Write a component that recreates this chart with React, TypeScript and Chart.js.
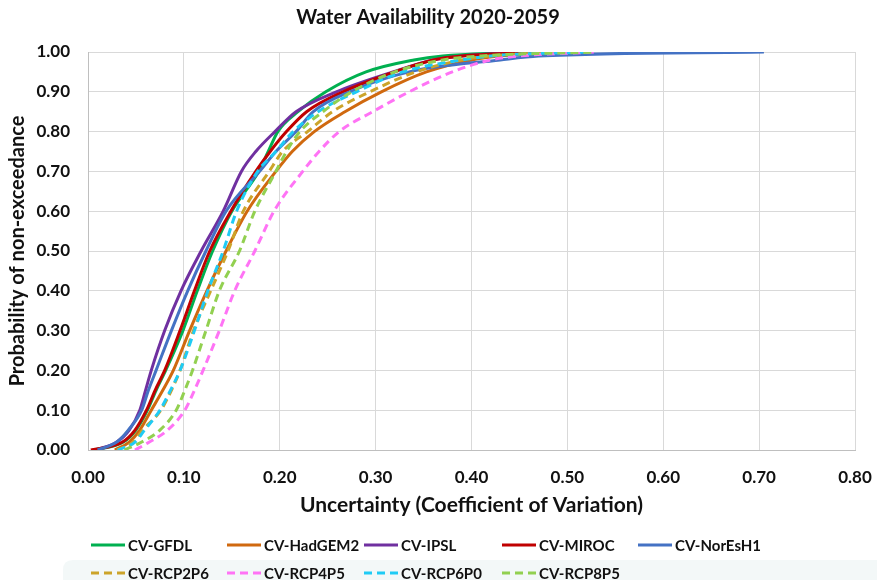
import React, { useEffect, useRef } from "react";
import { Chart, registerables } from "chart.js";

Chart.register(...registerables);

// Probability of non-exceedance levels (shared y values)
const probabilityLevels = [0, 0.02, 0.05, 0.1, 0.15, 0.2, 0.3, 0.4, 0.5, 0.6, 0.7, 0.75, 0.8, 0.85, 0.9, 0.95, 0.98, 0.99, 1.0];

// Coefficient of variation at each probability level, per series
const cvGFDL = [0.005, 0.037, 0.050, 0.062, 0.071, 0.081, 0.099, 0.114, 0.130, 0.150, 0.178, 0.188, 0.198, 0.219, 0.248, 0.290, 0.340, 0.370, 0.460];
const cvHadGEM2 = [0.028, 0.043, 0.054, 0.066, 0.078, 0.089, 0.106, 0.124, 0.144, 0.166, 0.196, 0.213, 0.236, 0.268, 0.306, 0.353, 0.400, 0.430, 0.520];
const cvIPSL = [0.008, 0.030, 0.043, 0.054, 0.060, 0.066, 0.080, 0.097, 0.118, 0.141, 0.160, 0.175, 0.195, 0.217, 0.259, 0.318, 0.360, 0.390, 0.460];
const cvMIROC = [0.003, 0.036, 0.049, 0.061, 0.070, 0.080, 0.096, 0.111, 0.127, 0.149, 0.175, 0.190, 0.207, 0.228, 0.266, 0.320, 0.360, 0.390, 0.480];
const cvNorEsH1 = [0.010, 0.030, 0.042, 0.056, 0.063, 0.071, 0.087, 0.104, 0.123, 0.144, 0.179, 0.196, 0.217, 0.235, 0.273, 0.335, 0.430, 0.470, 0.705];
const cvRCP2P6 = [0.030, 0.047, 0.057, 0.076, 0.087, 0.096, 0.110, 0.128, 0.146, 0.162, 0.189, 0.203, 0.229, 0.255, 0.294, 0.342, 0.390, 0.420, 0.500];
const cvRCP4P5 = [0.049, 0.064, 0.083, 0.101, 0.111, 0.120, 0.137, 0.153, 0.174, 0.194, 0.224, 0.241, 0.262, 0.297, 0.335, 0.380, 0.420, 0.450, 0.530];
const cvRCP6P0 = [0.031, 0.049, 0.059, 0.075, 0.086, 0.096, 0.111, 0.125, 0.141, 0.155, 0.177, 0.196, 0.214, 0.240, 0.280, 0.328, 0.390, 0.420, 0.520];
const cvRCP8P5 = [0.038, 0.056, 0.075, 0.092, 0.101, 0.109, 0.123, 0.137, 0.158, 0.174, 0.196, 0.207, 0.221, 0.245, 0.275, 0.320, 0.370, 0.410, 0.530];

const seriesLabels = ["CV-GFDL", "CV-HadGEM2", "CV-IPSL", "CV-MIROC", "CV-NorEsH1", "CV-RCP2P6", "CV-RCP4P5", "CV-RCP6P0", "CV-RCP8P5"];
const seriesValues = [cvGFDL, cvHadGEM2, cvIPSL, cvMIROC, cvNorEsH1, cvRCP2P6, cvRCP4P5, cvRCP6P0, cvRCP8P5];
const seriesColors = ["#00B050", "#D0690F", "#7030A0", "#C00000", "#4472C4", "#CCA42A", "#FF73F5", "#1FCBF5", "#92D050"];
const seriesDashed = [false, false, false, false, false, true, true, true, true];

const chartTitle = "Water Availability 2020-2059";
const xTitle = "Uncertainty (Coefficient of Variation)";
const yTitle = "Probability of non-exceedance";

const FONT = "Lato, 'Open Sans', 'DejaVu Sans', sans-serif";
const TEXT = "#111111";
const DASH = [8, 5];

export default function App() {
  const ref = useRef<HTMLCanvasElement | null>(null);

  useEffect(() => {
    document.body.style.margin = "0";
    const canvas = ref.current;
    if (!canvas) return;

    const n = seriesLabels.length;
    const datasets = seriesLabels.map((label, i) => ({
      label,
      data: seriesValues[i].map((x, j) => ({ x, y: probabilityLevels[j] })),
      borderColor: seriesColors[i],
      backgroundColor: seriesColors[i],
      borderWidth: 3,
      borderDash: seriesDashed[i] ? DASH : [],
      pointRadius: 0,
      pointHoverRadius: 0,
      showLine: true,
      fill: false,
      cubicInterpolationMode: "monotone" as const,
      order: n - i,
    }));

    const decorPlugin = {
      id: "decor",
      beforeDraw(chart: any) {
        const ctx = chart.ctx;
        ctx.save();
        ctx.fillStyle = "#ffffff";
        ctx.fillRect(0, 0, chart.width, chart.height);
        // faint legend background band
        ctx.fillStyle = "#f3f8f8";
        ctx.beginPath();
        const x0 = 63, y0 = 560, r = 10;
        ctx.moveTo(x0 + r, y0);
        ctx.lineTo(chart.width, y0);
        ctx.lineTo(chart.width, chart.height);
        ctx.lineTo(x0, chart.height);
        ctx.lineTo(x0, y0 + r);
        ctx.quadraticCurveTo(x0, y0, x0 + r, y0);
        ctx.fill();
        ctx.restore();
      },
      afterDraw(chart: any) {
        const ctx = chart.ctx;
        const area = chart.chartArea;
        ctx.save();
        ctx.fillStyle = TEXT;
        ctx.textAlign = "center";
        ctx.textBaseline = "middle";
        ctx.font = `bold 20px ${FONT}`;
        ctx.fillText(chartTitle, 428, 18);
        ctx.font = `bold 21px ${FONT}`;
        ctx.fillText(xTitle, (area.left + area.right) / 2, 505);
        ctx.save();
        ctx.font = `bold 20px ${FONT}`;
        ctx.translate(18, (area.top + area.bottom) / 2);
        ctx.rotate(-Math.PI / 2);
        ctx.fillText(yTitle, 0, 0);
        ctx.restore();

        // legend
        const cols = [91, 227, 364, 502, 638];
        const rows = [545, 573];
        ctx.font = `bold 15px ${FONT}`;
        ctx.textAlign = "left";
        chart.data.datasets.forEach((ds: any, i: number) => {
          const row = i < 5 ? 0 : 1;
          const col = i < 5 ? i : i - 5;
          const lx = cols[col];
          const ly = rows[row];
          ctx.strokeStyle = ds.borderColor;
          ctx.lineWidth = 3;
          ctx.setLineDash(seriesDashed[i] ? DASH : []);
          ctx.beginPath();
          ctx.moveTo(lx, ly);
          ctx.lineTo(lx + 34, ly);
          ctx.stroke();
          ctx.setLineDash([]);
          ctx.fillStyle = TEXT;
          ctx.fillText(ds.label, lx + 37, ly + 1);
        });
        ctx.restore();
      },
    };

    const chart = new Chart(canvas, {
      type: "scatter",
      data: { datasets },
      options: {
        animation: false,
        responsive: false,
        maintainAspectRatio: false,
        devicePixelRatio: 1,
        layout: { padding: { top: 52, right: 22, left: 0, bottom: 0 } },
        plugins: { legend: { display: false }, title: { display: false }, tooltip: { enabled: false } },
        scales: {
          x: {
            type: "linear",
            min: 0,
            max: 0.8,
            afterFit: (s: any) => { s.height = 130; s.paddingRight = 0; s.paddingLeft = 0; },
            ticks: {
              stepSize: 0.1,
              padding: 17,
              color: TEXT,
              font: { family: FONT, size: 17, weight: "bold" },
              callback: (v: any) => Number(v).toFixed(2),
            },
            grid: { color: "#d9d9d9", lineWidth: 1, drawTicks: false },
            border: { color: "#bfbfbf", width: 1 },
          },
          y: {
            type: "linear",
            min: 0,
            max: 1,
            afterFit: (s: any) => { s.width = 88; s.paddingTop = 0; s.paddingBottom = 0; },
            ticks: {
              stepSize: 0.1,
              padding: 18,
              color: TEXT,
              font: { family: FONT, size: 17, weight: "bold" },
              callback: (v: any) => Number(v).toFixed(2),
            },
            grid: { color: "#d9d9d9", lineWidth: 1, drawTicks: false },
            border: { color: "#bfbfbf", width: 1 },
          },
        },
      },
      plugins: [decorPlugin],
    });

    return () => chart.destroy();
  }, []);

  return (
    <div style={{ width: 877, height: 580, position: "relative" }}>
      <canvas ref={ref} width={877} height={580} style={{ display: "block", width: 877, height: 580 }} />
    </div>
  );
}
